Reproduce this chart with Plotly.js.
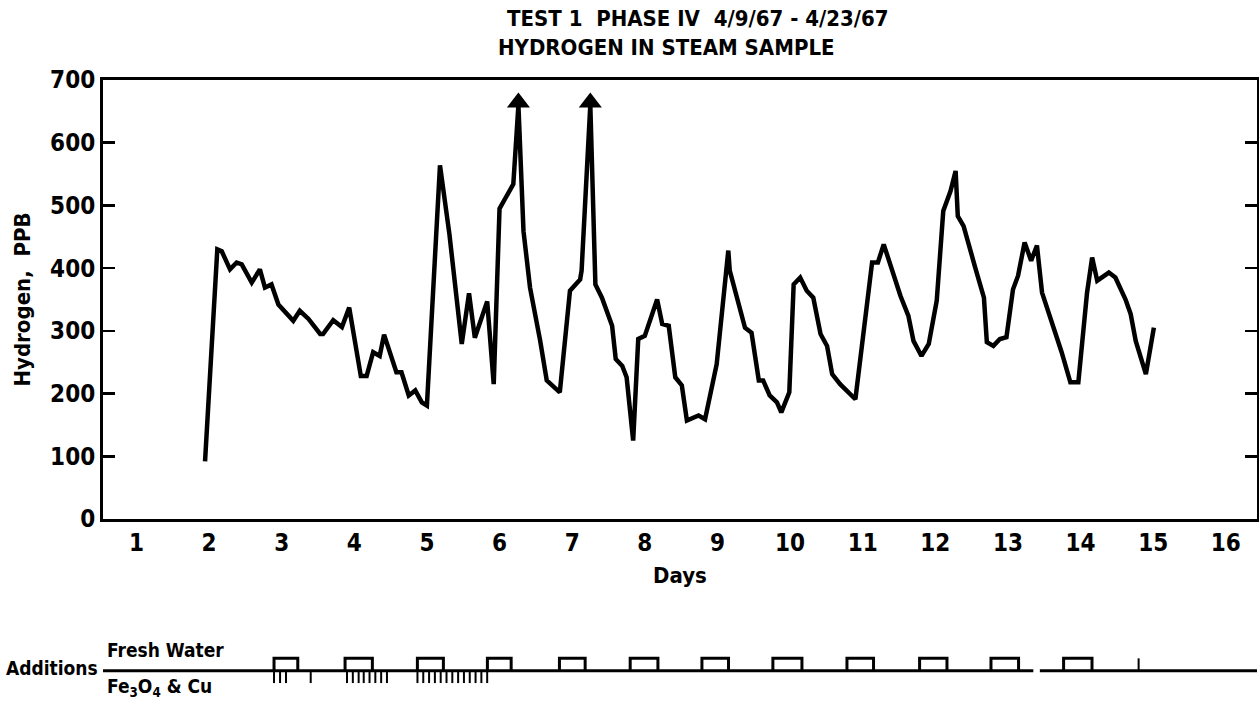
<!DOCTYPE html>
<html>
<head>
<meta charset="utf-8">
<script src="https://cdn.plot.ly/plotly-3.0.1.min.js"></script>
<style>html,body{margin:0;padding:0;background:#fff;}#chart{width:1259px;height:706px;}</style>
</head>
<body>
<div id="chart"></div>
<script>
// ---- Data ----
const days = [1.945,2.114,2.175,2.289,2.38,2.45,2.588,2.70,2.77,2.86,2.955,3.16,3.25,3.37,3.53,3.57,3.71,3.83,3.93,
  4.09,4.17,4.26,4.35,4.41,4.58,4.65,4.75,4.84,4.93,5.00,5.18,5.31,5.48,5.58,5.66,5.83,5.92,6.00,6.19,6.20,6.26,
  6.33,6.42,6.56,6.65,6.83,6.97,7.11,7.13,7.25,7.32,7.41,7.55,7.60,7.69,7.75,7.84,7.91,8.00,8.17,8.24,8.33,8.42,
  8.51,8.58,8.74,8.83,8.99,9.15,9.17,9.24,9.38,9.47,9.57,9.63,9.72,9.82,9.88,9.99,10.05,10.14,10.23,10.32,10.42,
  10.51,10.58,10.69,10.90,11.13,11.21,11.29,11.52,11.63,11.70,11.81,11.91,12.02,12.11,12.21,12.28,12.31,12.39,
  12.55,12.67,12.71,12.80,12.89,12.98,13.07,13.14,13.23,13.32,13.40,13.47,13.74,13.86,13.97,14.09,14.16,14.23,
  14.39,14.48,14.62,14.69,14.76,14.90,15.01];
const hydrogenPPB = [92,430,427,398,409,406,377,398,369,374,342,316,332,319,295,295,317,306,337,
  228,228,266,260,294,234,234,197,205,186,181,564,454,279,360,289,347,215,495,534,555,660,
  459,369,284,221,202,364,382,396,660,374,353,308,255,244,226,125,287,292,350,311,308,226,
  213,157,165,159,247,428,396,364,305,297,221,221,197,186,170,202,374,385,364,353,295,
  276,231,215,191,409,409,438,356,324,284,260,279,348,491,523,555,483,467,
  401,353,282,276,287,290,366,388,441,412,436,361,266,218,218,361,417,380,
  393,385,350,327,284,231,305];
// off-scale peaks marked with arrowheads
const offScaleDays = [6.26, 7.25];
const offScaleMark = [664, 664];

// Additions strip: fresh water periods (start, end) and Fe3O4 & Cu dosing marks
const freshWaterStart = [2.895,3.873,4.869,5.833,6.825,7.799,8.787,9.764,10.784,11.784,12.767,13.767];
const freshWaterEnd   = [3.222,4.249,5.227,6.160,7.179,8.181,9.153,10.164,11.150,12.161,13.147,14.158];
const feCuDays = [2.895,2.978,3.060,3.40,
  3.90,3.98,4.06,4.13,4.21,4.29,4.37,4.45,
  4.87,4.95,5.03,5.11,5.19,5.27,5.35,5.43,5.51,5.59,5.67,5.75,5.83];
const otherMarkDays = [14.80];

const dayLabels = ['1','2','3','4','5','6','7','8','9','10','11','12','13','14','15','16'];
const dayLabelPos = [1,2,3,4,5,6,7,8,9,10,11,12,13,14,15,16];
const dayTickPos = [1.5,2.5,3.5,4.5,5.5,6.5,7.5,8.5,9.5,10.5,11.5,12.5,13.5,14.5,15.5];
const yTicks = [0,100,200,300,400,500,600,700];
const xRange = [0.54, 16.43];

// ---- Build strip traces ----
const bx = [], by = [];
for (let i = 0; i < freshWaterStart.length; i++) {
  bx.push(freshWaterStart[i], freshWaterStart[i], freshWaterEnd[i], freshWaterEnd[i], null);
  by.push(0, 1, 1, 0, null);
}
const fx = [], fy = [];
feCuDays.forEach(d => { fx.push(d, d, null); fy.push(0, -1, null); });
otherMarkDays.forEach(d => { fx.push(d, d, null); fy.push(0, 1, null); });

const FONT = 'DejaVu Sans Condensed, Liberation Sans Narrow, Arial Narrow, sans-serif';
const TXT = (size) => ({family: FONT, size: size, color: '#000', weight: 'bold'});

const traces = [
  {x: days, y: hydrogenPPB, type: 'scatter', mode: 'lines', xaxis: 'x', yaxis: 'y',
   line: {color: '#000', width: 4.5}, hoverinfo: 'x+y', showlegend: false},
  {x: offScaleDays, y: offScaleMark, type: 'scatter', mode: 'markers', xaxis: 'x', yaxis: 'y',
   marker: {symbol: 'triangle-up', size: 20, color: '#000'}, showlegend: false, hoverinfo: 'skip', cliponaxis: false},
  {x: [xRange[0], 13.35, null, 13.44, xRange[1]], y: [0, 0, null, 0, 0], type: 'scatter', mode: 'lines',
   xaxis: 'x', yaxis: 'y2', line: {color: '#000', width: 3}, showlegend: false, hoverinfo: 'skip'},
  {x: bx, y: by, type: 'scatter', mode: 'lines', xaxis: 'x', yaxis: 'y2',
   line: {color: '#000', width: 3}, showlegend: false, hoverinfo: 'skip'},
  {x: fx, y: fy, type: 'scatter', mode: 'lines', xaxis: 'x', yaxis: 'y2',
   line: {color: '#000', width: 2}, showlegend: false, hoverinfo: 'skip'}
];

const annotations = [
  {xref: 'paper', yref: 'paper', x: 0.5156, y: 1.1016, xanchor: 'center', yanchor: 'middle', showarrow: false,
   text: 'TEST 1  PHASE IV  4/9/67 - 4/23/67', font: TXT(22)},
  {xref: 'paper', yref: 'paper', x: 0.4887, y: 1.0525, xanchor: 'center', yanchor: 'middle', showarrow: false,
   text: 'HYDROGEN IN STEAM SAMPLE', font: TXT(22)},
  {xref: 'paper', yref: 'y2', x: -0.003, y: 0.2, xanchor: 'right', yanchor: 'middle', showarrow: false,
   text: 'Additions', font: TXT(19)},
  {xref: 'paper', yref: 'y2', x: 0.002, y: 1.65, xanchor: 'left', yanchor: 'middle', showarrow: false,
   text: 'Fresh Water', font: TXT(19)},
  {xref: 'paper', yref: 'y2', x: 0.002, y: -1.4, xanchor: 'left', yanchor: 'middle', showarrow: false,
   text: 'Fe<sub>3</sub>O<sub>4</sub> &amp; Cu', font: TXT(19)}
];

const layout = {
  width: 1259, height: 706,
  paper_bgcolor: '#fff', plot_bgcolor: '#fff',
  margin: {l: 103, r: 2, t: 80, b: 16},
  showlegend: false,
  xaxis: {range: xRange, anchor: 'y', tickmode: 'array', tickvals: dayLabelPos, ticktext: dayLabels,
          ticks: '', showgrid: false, zeroline: false, showline: true, mirror: true,
          linecolor: '#000', linewidth: 3,
          tickfont: TXT(24),
          title: {text: 'Days', standoff: 12, font: TXT(22)}},
  xaxis2: {range: xRange, overlaying: 'x', anchor: 'y', side: 'bottom', tickmode: 'array', tickvals: dayTickPos,
           ticks: 'inside', ticklen: 12, tickwidth: 2.5, tickcolor: '#000', showticklabels: false,
           showgrid: false, zeroline: false, showline: true, mirror: 'ticks', linecolor: '#000', linewidth: 3},
  yaxis: {domain: [0.2803, 1], range: [0, 700], anchor: 'x', tickmode: 'array', tickvals: yTicks,
          ticks: 'inside', ticklen: 12, tickwidth: 2.5, tickcolor: '#000',
          showgrid: false, zeroline: false, showline: true, mirror: 'ticks', linecolor: '#000', linewidth: 3,
          tickfont: TXT(24),
          title: {text: 'Hydrogen,  PPB', standoff: 14, font: TXT(22)}},
  yaxis2: {domain: [0, 0.1], range: [-1.563, 3.376], anchor: 'x', visible: false, fixedrange: true},
  annotations: annotations
};

Plotly.newPlot('chart', traces, layout, {displayModeBar: false, staticPlot: true});
</script>
</body>
</html>
